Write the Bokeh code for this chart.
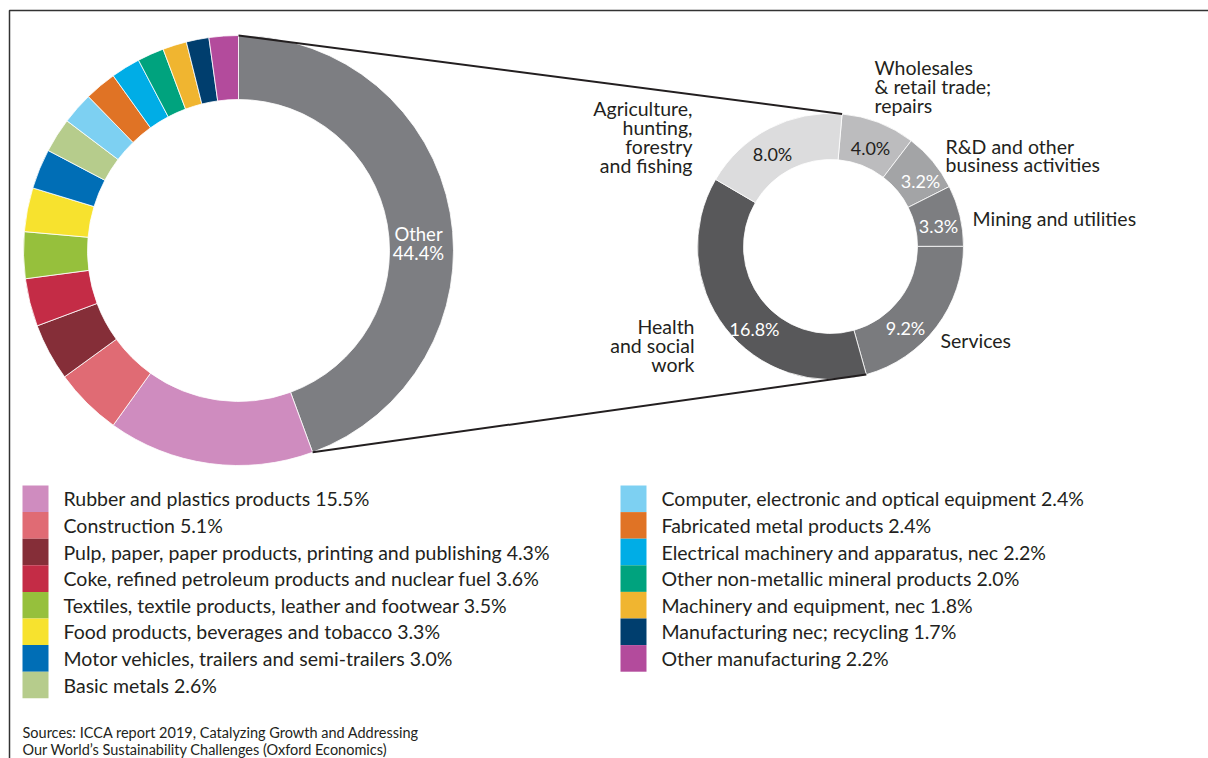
import math
from bokeh.plotting import figure
from bokeh.models import Range1d
from bokeh.core.properties import value
from bokeh.embed import file_html
from bokeh.resources import INLINE

# ---------------- data ----------------
big_labels = ["Other", "Rubber and plastics products", "Construction",
              "Pulp, paper, paper products, printing and publishing",
              "Coke, refined petroleum products and nuclear fuel",
              "Textiles, textile products, leather and footwear",
              "Food products, beverages and tobacco",
              "Motor vehicles, trailers and semi-trailers", "Basic metals",
              "Computer, electronic and optical equipment",
              "Fabricated metal products",
              "Electrical machinery and apparatus, nec",
              "Other non-metallic mineral products",
              "Machinery and equipment, nec", "Manufacturing nec; recycling",
              "Other manufacturing"]
big_values = [44.4, 15.5, 5.1, 4.3, 3.6, 3.5, 3.3, 3.0, 2.6, 2.4, 2.4, 2.2, 2.0, 1.8, 1.7, 2.2]
big_colors = ["#7d7e82", "#cf8cbf", "#e06b74", "#852e38", "#c42c46", "#96c03c",
              "#f7e22e", "#006eb6", "#b6cc8c", "#7dd0f2", "#e07325", "#00ade6",
              "#00a37e", "#f0b530", "#003e6e", "#b34b9c"]

small_labels = ["Wholesales & retail trade; repairs", "R&D and other business activities",
                "Mining and utilities", "Services", "Health and social work",
                "Agriculture, hunting, forestry and fishing"]
small_values = [4.0, 3.2, 3.3, 9.2, 16.8, 8.0]
small_colors = ["#bcbcbe", "#a3a4a6", "#7d7e81", "#7a7b7e", "#58585a", "#dcdcdd"]
small_pct_colors = ["#231f20", "#ffffff", "#ffffff", "#ffffff", "#ffffff", "#231f20"]

source_lines = ["Sources: ICCA report 2019, Catalyzing Growth and Addressing",
                "Our World\u2019s Sustainability Challenges (Oxford Economics)"]

# ---------------- layout (pixel coordinates, y downward) ----------------
W, H = 1208, 758
FONT = value("Lato")
DARK = "#231f20"
LBL = "19.5px"

def Y(py):
    return H - py

big_c = (238, 250); big_R, big_r = 215, 151
small_c = (830, 246); small_R, small_r = 133, 87
big_start = 90.0
small_start = 85.0

small_label_lines = [
    (["Wholesales", "& retail trade;", "repairs"], 874, [67, 86, 105], "left"),
    (["R&D and other", "business activities"], 945, [146, 164], "left"),
    (["Mining and utilities"], 972, [218], "left"),
    (["Services"], 940, [340], "left"),
    (["Health", "and social", "work"], 694, [326, 345, 364], "right"),
    (["Agriculture,", "hunting,", "forestry", "and fishing"], 692, [108, 127, 146, 165], "right"),
]
small_pct_pos = [(870, 147), (920, 180), (938, 225), (905, 327), (754, 328), (772, 153)]

p = figure(width=W, height=H, x_range=Range1d(0, W), y_range=Range1d(0, H),
           output_backend="svg", toolbar_location=None, min_border=0,
           x_axis_type=None, y_axis_type=None)
p.grid.visible = False
p.outline_line_color = None
p.background_fill_color = "white"
p.border_fill_color = "white"

def wedge_angles(vals, start_deg):
    tot = sum(vals)
    starts, ends = [], []
    cum = 0.0
    for v in vals:
        a0 = math.radians(start_deg) - 2 * math.pi * cum / tot
        cum += v
        a1 = math.radians(start_deg) - 2 * math.pi * cum / tot
        starts.append(a1)
        ends.append(a0)
    return starts, ends

# frame
p.line([9, 9, W], [Y(H), Y(10), Y(10)], line_color="#333333", line_width=1.5)

# big donut
bs, be = wedge_angles(big_values, big_start)
p.annular_wedge(x=[big_c[0]] * len(big_values), y=[Y(big_c[1])] * len(big_values),
                inner_radius=big_r, outer_radius=big_R,
                start_angle=bs, end_angle=be, fill_color=big_colors,
                line_color="white", line_width=0.8)

# small donut
ss, se = wedge_angles(small_values, small_start)
p.annular_wedge(x=[small_c[0]] * len(small_values), y=[Y(small_c[1])] * len(small_values),
                inner_radius=small_r, outer_radius=small_R,
                start_angle=ss, end_angle=se, fill_color=small_colors,
                line_color="white", line_width=0.8)

# connecting lines
def pt(c, R, ang):
    return c[0] + R * math.cos(ang), Y(c[1]) + R * math.sin(ang)

a_top_big = be[0]          # start of "Other"
a_bot_big = bs[0]          # end of "Other"
a_top_small = se[0]        # start of breakdown
a_bot_small = ss[3]        # between Services and Health
x0, y0 = pt(big_c, big_R, a_top_big); x1, y1 = pt(small_c, small_R, a_top_small)
x2, y2 = pt(big_c, big_R, a_bot_big); x3, y3 = pt(small_c, small_R, a_bot_small)
p.segment(x0=[x0, x2], y0=[y0, y2], x1=[x1, x3], y1=[y1, y3],
          line_color=DARK, line_width=2)

# "Other" label
p.text(x=[418, 418], y=[Y(233), Y(252)], text=[big_labels[0], f"{big_values[0]:.1f}%"],
       text_font=FONT, text_font_size="18.5px", text_color="white",
       text_align="center", text_baseline="middle")

# small donut labels
for (lines, lx, lys, al) in small_label_lines:
    p.text(x=[lx] * len(lines), y=[Y(v) for v in lys], text=lines,
           text_font=FONT, text_font_size=LBL, text_color=DARK,
           text_align=al, text_baseline="middle")
p.text(x=[q[0] for q in small_pct_pos], y=[Y(q[1]) for q in small_pct_pos],
       text=[f"{v:.1f}%" for v in small_values], text_font=FONT,
       text_font_size="18px", text_color=small_pct_colors,
       text_align="center", text_baseline="middle")

# legend
leg_items = list(range(1, len(big_values)))
col1 = leg_items[:8]
col2 = leg_items[8:]
row_h = 26.6
for col, sx, tx in [(col1, 22, 63), (col2, 620, 661)]:
    tops = [485 + k * row_h for k in range(len(col))]
    p.quad(left=[sx] * len(col), right=[sx + 26] * len(col),
           top=[Y(t) for t in tops], bottom=[Y(t + row_h) for t in tops],
           fill_color=[big_colors[i] for i in col], line_color=None)
    p.text(x=[tx] * len(col), y=[Y(t + row_h / 2) for t in tops],
           text=[f"{big_labels[i]} {big_values[i]:.1f}%" for i in col],
           text_font=FONT, text_font_size=LBL, text_color=DARK,
           text_align="left", text_baseline="middle")

# sources
p.text(x=[22, 22], y=[Y(732), Y(749)], text=source_lines, text_font=FONT,
       text_font_size="14.5px", text_color=DARK, text_align="left",
       text_baseline="middle")

open("out.html", "w").write(file_html(p, INLINE))
